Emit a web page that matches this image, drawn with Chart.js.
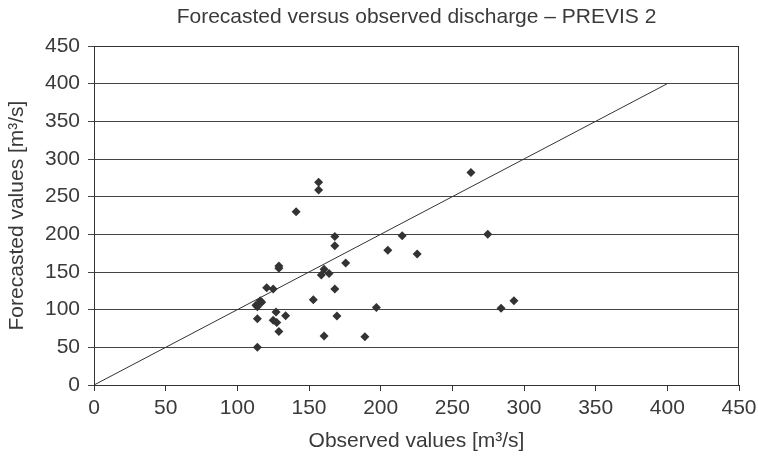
<!DOCTYPE html>
<html>
<head>
<meta charset="utf-8">
<script src="https://cdn.jsdelivr.net/npm/chart.js@4/dist/chart.umd.min.js"></script>
<style>
  html, body { margin: 0; padding: 0; background: #fff; }
  #wrap { width: 758px; height: 457px; }
</style>
</head>
<body>
<div id="wrap"><canvas id="grafica"></canvas></div>
<script>
// valores
const observados = [113, 116, 117, 114, 114, 114, 120.5, 125, 127, 125, 127.5, 129, 129, 129, 133.7, 141, 153, 156.7, 156.7, 158.6, 160.5, 164, 160.5, 168, 168, 168, 169.5, 175.6, 189, 197, 205, 215, 225.5, 263, 274.7, 284, 293];
const pronosticados = [106, 112, 110, 104, 88, 50, 129, 127.5, 97, 86, 83, 71, 158, 155, 92, 230, 113, 269, 259, 146, 153.5, 148, 65, 197, 185, 127.5, 91.6, 162, 64, 103, 179, 198, 174, 282, 200, 102, 112];
const lineaX = [0, 400];
const lineaY = [0, 400];
const ticksEje = [0, 50, 100, 150, 200, 250, 300, 350, 400, 450];

const puntos = observados.map((x, i) => ({ x: x, y: pronosticados[i] }));
const linea = lineaX.map((x, i) => ({ x: x, y: lineaY[i] }));

// marco alrededor del area del grafico
const marco = {
    id: 'marco',
    afterDraw(chart) {
        const a = chart.chartArea;
        const ctx = chart.ctx;
        ctx.save();
        ctx.strokeStyle = '#333';
        ctx.lineWidth = 1;
        ctx.strokeRect(a.left + 0.5, a.top + 0.5, a.right - a.left - 1, a.bottom - a.top);
        ctx.restore();
    }
};

const fuente = { family: 'Liberation Sans, Arial, sans-serif', size: 21, weight: 'normal' };
const colorTexto = '#3a3a3a';

new Chart(document.getElementById('grafica'), {
    data: {
        datasets: [
            {
                type: 'scatter',
                data: puntos,
                pointStyle: 'rectRot',
                pointRadius: 4.5,
                backgroundColor: '#333',
                borderColor: '#333',
                borderWidth: 0
            },
            {
                type: 'line',
                data: linea,
                borderColor: '#333',
                borderWidth: 1,
                pointRadius: 0,
                fill: false
            }
        ]
    },
    options: {
        responsive: true,
        maintainAspectRatio: false,
        animation: false,
        layout: { padding: { left: 0, right: 19, top: 0, bottom: 0 } },
        plugins: {
            legend: { display: false },
            tooltip: { enabled: false },
            title: {
                display: true,
                fullSize: false,
                text: 'Forecasted versus observed discharge – PREVIS 2',
                color: colorTexto,
                font: fuente,
                padding: { top: 5, bottom: 15.8 }
            }
        },
        scales: {
            x: {
                type: 'linear',
                min: 0,
                max: 450,
                afterBuildTicks: s => { s.ticks = ticksEje.map(v => ({ value: v })); },
                afterFit: s => { s.height = 72; s.paddingLeft = 0; s.paddingRight = 0; },
                ticks: { color: colorTexto, font: fuente, padding: 5, maxRotation: 0 },
                grid: { drawOnChartArea: false, drawTicks: true, tickLength: 6, color: '#333' },
                border: { color: '#333' },
                title: {
                    display: true,
                    text: 'Observed values [m³/s]',
                    color: colorTexto,
                    font: fuente,
                    padding: { top: 3, bottom: 3 }
                }
            },
            y: {
                type: 'linear',
                min: 0,
                max: 450,
                afterBuildTicks: s => { s.ticks = ticksEje.map(v => ({ value: v })); },
                afterFit: s => { s.width = 94; },
                ticks: { color: colorTexto, font: fuente, padding: 8 },
                grid: { color: '#444', lineWidth: 1, drawTicks: true, tickLength: 6 },
                border: { color: '#333' },
                title: {
                    display: true,
                    text: 'Forecasted values [m³/s]',
                    color: colorTexto,
                    font: fuente,
                    padding: { top: 5, bottom: 5 }
                }
            }
        }
    },
    plugins: [marco]
});
</script>
</body>
</html>
